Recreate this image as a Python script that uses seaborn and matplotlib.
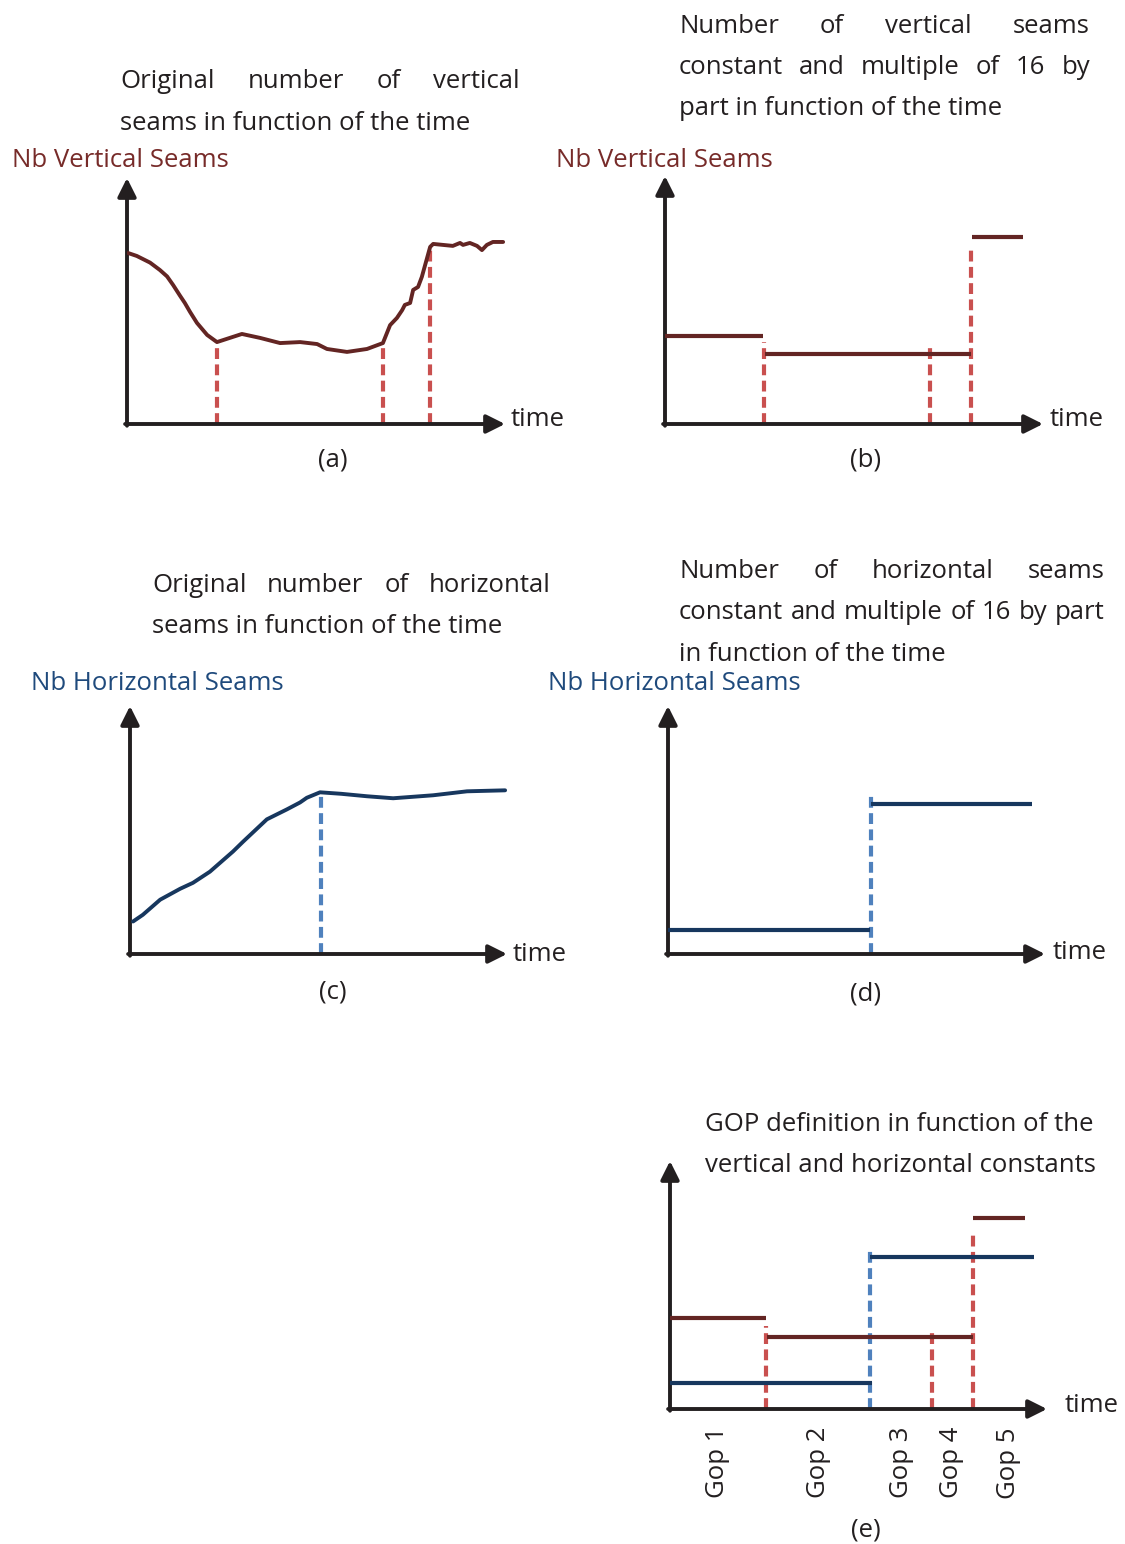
import matplotlib
matplotlib.use("Agg")
import matplotlib.pyplot as plt
import matplotlib.transforms as mtransforms
import seaborn as sns
import pandas as pd

# ---------------- data (time and seams in arbitrary units, 0..100 per axis) ----------------
a_time = [0.3, 2.6, 6.1, 8.7, 10.6, 12.2, 14.0, 15.3, 16.7, 18.5, 21.2, 23.8, 30.4, 35.2, 40.5,
          45.8, 50.3, 52.9, 58.2, 63.5, 67.7, 69.6, 71.4, 72.8, 73.5, 74.9, 75.7, 77.0, 78.0,
          80.2, 81.0, 86.2, 88.1, 88.9, 90.7, 92.6, 93.9, 95.2, 96.8, 99.5]
a_seams = [69.5, 68.3, 65.6, 62.6, 60.0, 56.5, 52.2, 49.2, 45.5, 41.1, 36.2, 33.3, 36.6, 35.0, 32.9,
           33.3, 32.5, 30.5, 29.3, 30.5, 32.9, 40.2, 43.1, 46.3, 48.4, 49.2, 54.5, 55.7, 59.8,
           72.0, 73.2, 72.4, 73.6, 72.8, 73.6, 72.4, 70.7, 72.8, 74.0, 74.0]
a_cut_time = [23.8, 67.7, 80.2]
a_cut_top = [33.3, 32.9, 72.0]

b_step_start = [0.0, 26.5, 81.2]
b_step_end = [25.9, 81.0, 94.7]
b_step_level = [35.5, 28.2, 75.4]
b_cut_time = [26.2, 70.1, 81.0]
b_cut_top = [33.1, 31.9, 71.0]

c_time = [0.8, 3.4, 8.0, 13.3, 16.7, 21.2, 27.3, 30.0, 36.3, 41.6, 45.1, 46.9, 50.4, 56.0, 62.9,
          69.8, 80.4, 89.4, 99.5]
c_seams = [13.1, 15.8, 21.9, 26.3, 28.7, 33.2, 41.3, 45.3, 54.3, 58.3, 61.1, 63.0, 65.2, 64.6, 63.6,
           62.8, 64.0, 65.6, 66.0]
c_cut_time = [50.7]
c_cut_top = [65.2]

d_step_start = [0.0, 53.8]
d_step_end = [53.6, 96.6]
d_step_level = [9.7, 60.5]
d_cut_time = [53.8]
d_cut_top = [64.1]

e_v_start = [0.0, 25.7, 80.4]
e_v_end = [25.5, 80.4, 94.2]
e_v_level = [36.8, 29.1, 76.9]
e_h_start = [0.0, 53.1]
e_h_end = [53.6, 96.6]
e_h_level = [10.5, 61.1]
e_v_cut_time = [25.5, 69.5, 80.4]
e_v_cut_top = [33.6, 32.0, 71.3]
e_h_cut_time = [53.1]
e_h_cut_top = [64.8]
gop_labels = ["Gop 1", "Gop 2", "Gop 3", "Gop 4", "Gop 5"]
gop_time = [12.5, 39.3, 61.5, 74.8, 89.7]

# ---------------- style ----------------
sns.set_theme(style="white")
plt.rcParams["font.family"] = ["Open Sans", "DejaVu Sans"]

INK = "#231F20"
MAROON = "#632523"
MAROON_TXT = "#772B29"
NAVY = "#17375E"
NAVY_TXT = "#1F4A7C"
RED = "#C9504F"
BLUE = "#4F81BD"
FS = 18.5

W, H = 1125, 1544
fig = plt.figure(figsize=(W / 100, H / 100), dpi=100)
pix = mtransforms.Affine2D().scale(1, -1).translate(0, H)


def add_text(x, y, s, **kw):
    kw.setdefault("fontsize", FS)
    kw.setdefault("color", INK)
    return fig.text(x, y, s, transform=pix, **kw)


def justify(line, xl, xr, y):
    words = line.split()
    texts = [add_text(0, y, w, ha="left", va="baseline") for w in words]
    r = fig.canvas.get_renderer()
    widths = [t.get_window_extent(r).width for t in texts]
    gap = (xr - xl - sum(widths)) / (len(words) - 1)
    x = xl
    for t, w in zip(texts, widths):
        t.set_position((x, y))
        x += w + gap


def make_ax(x0, y0, x1, y1):
    ax = fig.add_axes([x0 / W, 1 - y0 / H, (x1 - x0) / W, (y0 - y1) / H])
    ax.set_xlim(0, 100)
    ax.set_ylim(0, 100)
    ax.set_axis_off()
    props = dict(arrowstyle="-|>,head_length=0.4,head_width=0.2", color=INK, lw=2.8,
                 mutation_scale=28, shrinkA=0, shrinkB=0)
    ax.annotate("", xy=(1, 0), xytext=(-0.005, 0), xycoords="axes fraction",
                textcoords="axes fraction", arrowprops=props, annotation_clip=False)
    ax.annotate("", xy=(0, 1), xytext=(0, -0.007), xycoords="axes fraction",
                textcoords="axes fraction", arrowprops=props, annotation_clip=False)
    return ax


def steps(ax, start, end, level, color):
    rows = []
    for i, (s0, s1, lv) in enumerate(zip(start, end, level)):
        rows.append({"t": s0, "s": lv, "seg": i})
        rows.append({"t": s1, "s": lv, "seg": i})
    df = pd.DataFrame(rows)
    sns.lineplot(data=df, x="t", y="s", units="seg", estimator=None, sort=False, ax=ax,
                 color=color, lw=3.0, solid_capstyle="butt", zorder=3)


def cuts(ax, t, top, color):
    ax.vlines(t, 0, top, colors=color, lw=3.0, linestyles=(0, (2.6, 1.3)), zorder=2)


def tidy(ax):
    ax.set_xlabel("")
    ax.set_ylabel("")
    ax.set_xlim(0, 100)
    ax.set_ylim(0, 100)
    ax.set_axis_off()


# ---------------- panel (a) ----------------
ax = make_ax(127, 424, 505, 178)
cuts(ax, a_cut_time, a_cut_top, RED)
sns.lineplot(x=a_time, y=a_seams, ax=ax, estimator=None, sort=False, color=MAROON, lw=2.8,
             zorder=3, solid_joinstyle="round")
tidy(ax)
justify("Original number of vertical", 120, 520, 88)
add_text(120, 130, "seams in function of the time", ha="left", va="baseline")
add_text(12, 167, "Nb Vertical Seams", ha="left", va="baseline", color=MAROON_TXT)
add_text(511, 426, "time", ha="left", va="baseline")
add_text(333, 460, "(a)", ha="center", va="center")

# ---------------- panel (b) ----------------
ax = make_ax(665, 424, 1043, 176)
cuts(ax, b_cut_time, b_cut_top, RED)
steps(ax, b_step_start, b_step_end, b_step_level, MAROON)
tidy(ax)
justify("Number of vertical seams", 679, 1090, 33)
justify("constant and multiple of 16 by", 679, 1090, 74)
add_text(679, 115, "part in function of the time", ha="left", va="baseline")
add_text(556, 167, "Nb Vertical Seams", ha="left", va="baseline", color=MAROON_TXT)
add_text(1050, 426, "time", ha="left", va="baseline")
add_text(866, 460, "(b)", ha="center", va="center")

# ---------------- panel (c) ----------------
ax = make_ax(130, 954, 507, 706)
cuts(ax, c_cut_time, c_cut_top, BLUE)
sns.lineplot(x=c_time, y=c_seams, ax=ax, estimator=None, sort=False, color=NAVY, lw=2.8,
             zorder=3, solid_joinstyle="round")
tidy(ax)
justify("Original number of horizontal", 152, 551, 592)
add_text(152, 633, "seams in function of the time", ha="left", va="baseline")
add_text(31, 690, "Nb Horizontal Seams", ha="left", va="baseline", color=NAVY_TXT)
add_text(513, 961, "time", ha="left", va="baseline")
add_text(333, 992, "(c)", ha="center", va="center")

# ---------------- panel (d) ----------------
ax = make_ax(668, 954, 1045, 706)
cuts(ax, d_cut_time, d_cut_top, BLUE)
steps(ax, d_step_start, d_step_end, d_step_level, NAVY)
tidy(ax)
justify("Number of horizontal seams", 679, 1105, 578)
justify("constant and multiple of 16 by part", 679, 1105, 619)
add_text(679, 661, "in function of the time", ha="left", va="baseline")
add_text(548, 690, "Nb Horizontal Seams", ha="left", va="baseline", color=NAVY_TXT)
add_text(1053, 959, "time", ha="left", va="baseline")
add_text(866, 994, "(d)", ha="center", va="center")

# ---------------- panel (e) ----------------
ax = make_ax(670, 1409, 1047, 1161)
cuts(ax, e_v_cut_time, e_v_cut_top, RED)
steps(ax, e_v_start, e_v_end, e_v_level, MAROON)
steps(ax, e_h_start, e_h_end, e_h_level, NAVY)
cuts(ax, e_h_cut_time, e_h_cut_top, BLUE)
tidy(ax)
for lab, t in zip(gop_labels, gop_time):
    ax.text(t, -7.3, lab, rotation=90, ha="center", va="top", fontsize=FS, color=INK, clip_on=False)
add_text(705, 1131, "GOP definition in function of the", ha="left", va="baseline")
add_text(705, 1172, "vertical and horizontal constants", ha="left", va="baseline")
add_text(1065, 1412, "time", ha="left", va="baseline")
add_text(866, 1530, "(e)", ha="center", va="center")

fig.savefig("out.png", dpi=100, facecolor="white")
